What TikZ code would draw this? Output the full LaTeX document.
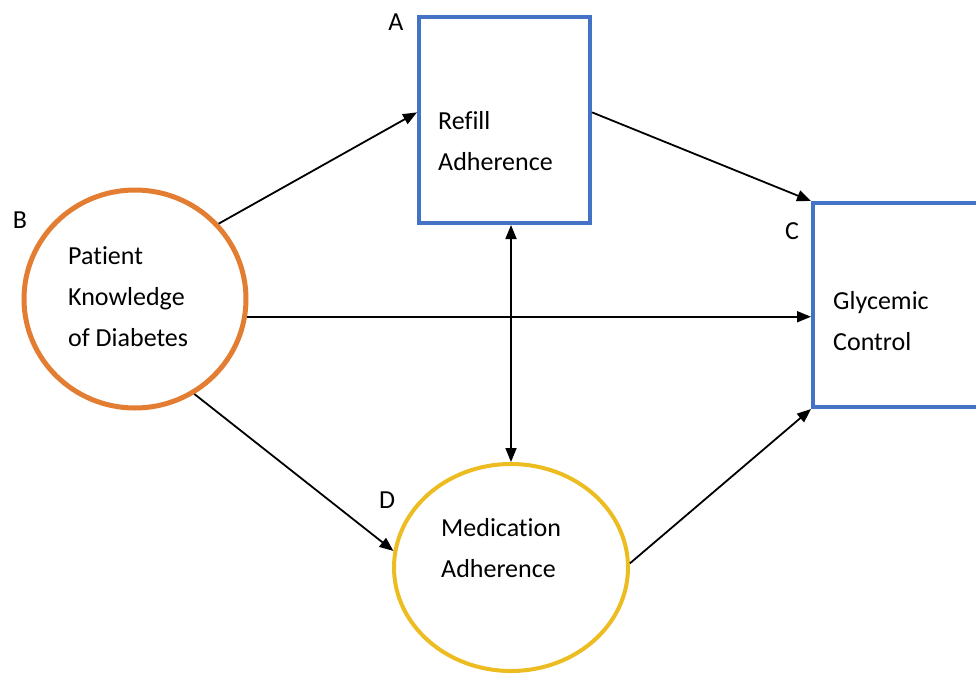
\documentclass[tikz,border=0pt]{standalone}
\usepackage{fontspec}
\setmainfont{Carlito}[Ligatures=NoCommon]
\usetikzlibrary{shapes.geometric, arrows.meta, positioning, calc}
\definecolor{boxblue}{RGB}{68,114,196}
\definecolor{knoworange}{RGB}{226,125,50}
\definecolor{medyellow}{RGB}{236,188,32}

\begin{document}
\begin{tikzpicture}[x=1pt, y=-1pt,
  txt/.style={font=\fontsize{26}{41}\selectfont, align=left, inner sep=0pt, anchor=west},
  tag/.style={font=\fontsize{26}{30}\selectfont, inner sep=0pt},
  arr/.style={line width=1.8pt, -{Triangle[length=14pt,width=11pt]}},
  darr/.style={line width=1.8pt, {Triangle[length=14pt,width=11pt]}-{Triangle[length=14pt,width=11pt]}}]
\useasboundingbox (0,0) rectangle (976,677);
\clip (0,0) rectangle (976,677);

% Refill adherence
\node[draw=boxblue, line width=4pt, rectangle, minimum width=171pt, minimum height=206pt, inner sep=0pt] (A) at (504.5,120) {};
\node[txt] (Atext) at (438,141) {Refill\\Adherence};
\node[tag] (Atag) at (396,22) {A};

% Patient knowledge
\node[draw=knoworange, line width=5pt, ellipse, minimum width=222pt, minimum height=218pt, inner sep=0pt] (B) at (135,299) {};
\node[txt] (Btext) at (68,297) {Patient\\Knowledge\\of Diabetes};
\node[tag] (Btag) at (20,220) {B};

% Glycemic control (runs past the right edge)
\node[draw=boxblue, line width=4pt, rectangle, minimum width=207pt, minimum height=204pt, inner sep=0pt] (C) at (916.5,305) {};
\node[txt] (Ctext) at (833,321) {Glycemic\\Control};
\node[tag] (Ctag) at (792,231) {C};

% Medication adherence
\node[draw=medyellow, line width=4pt, ellipse, minimum width=234pt, minimum height=207pt, inner sep=0pt] (D) at (511,567.5) {};
\node[txt] (Dtext) at (441,548) {Medication\\Adherence};
\node[tag] (Dtag) at (387,500) {D};

% Paths
\draw[arr] (B.42) -- (A.175);
\draw[arr] (A.5) -- (C.north west);
\draw[arr] (B.-9) -- (B.-9 -| C.west);
\draw[arr] (B.-58) -- (D.172);
\draw[arr] (D.2) -- (C.south west);
\draw[darr] (D.north |- A.south) -- (D.north);
\end{tikzpicture}
\end{document}
